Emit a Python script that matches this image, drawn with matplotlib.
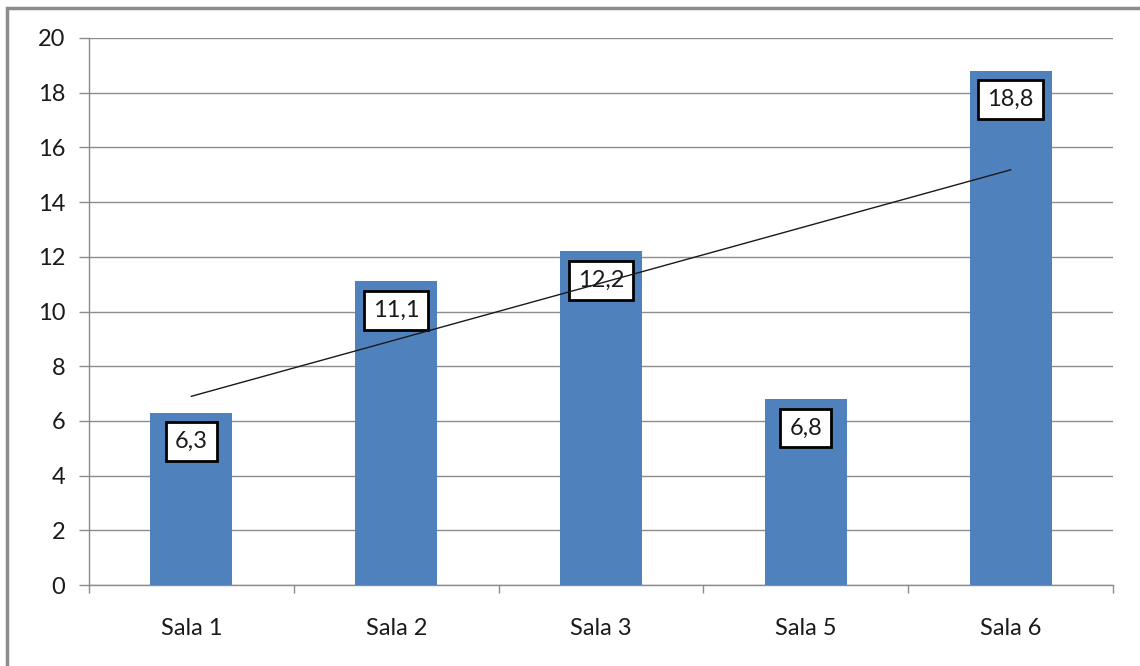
import numpy as np
import matplotlib.pyplot as plt
from matplotlib.patches import Rectangle

# Data
categories = ['Sala 1', 'Sala 2', 'Sala 3', 'Sala 5', 'Sala 6']
values = [6.3, 11.1, 12.2, 6.8, 18.8]
y_ticks = [0, 2, 4, 6, 8, 10, 12, 14, 16, 18, 20]

bar_color = '#4f81bd'
grid_color = '#8c8c8c'

plt.rcParams['font.family'] = ['Lato', 'DejaVu Sans']

fig = plt.figure(figsize=(11.4, 6.66), dpi=100)
ax = fig.add_axes([89 / 1140, (666 - 585) / 666, (1113 - 89) / 1140, (585 - 38) / 666])

x = np.arange(len(categories))
ax.bar(x, values, width=0.4, color=bar_color, zorder=3)

# Linear trend line through the bar values
slope, intercept = np.polyfit(x, values, 1)
ax.plot([x[0], x[-1]], [slope * x[0] + intercept, slope * x[-1] + intercept],
        color='#1a1a1a', linewidth=1.0, zorder=6)

# Value labels in boxes near the top of each bar
for xi, v in zip(x, values):
    ax.annotate(f'{v:.1f}'.replace('.', ','), xy=(xi, v), xytext=(0, -29),
                textcoords='offset pixels', ha='center', va='center', fontsize=17,
                color='#1a1a1a', zorder=5,
                bbox=dict(boxstyle='square,pad=0.38', facecolor='white',
                          edgecolor='black', linewidth=2))

ax.set_xlim(-0.5, len(categories) - 0.5)
ax.set_ylim(0, 20)
ax.set_yticks(y_ticks)
ax.set_xticks(x)
ax.set_xticklabels(categories)
ax.set_xticks(np.arange(-0.5, len(categories)), minor=True)

ax.yaxis.grid(True, color=grid_color, linewidth=1.0, zorder=0)
ax.set_axisbelow(True)

for side in ['top', 'right']:
    ax.spines[side].set_visible(False)
for side in ['left', 'bottom']:
    ax.spines[side].set_color(grid_color)
    ax.spines[side].set_linewidth(1.0)

ax.tick_params(axis='y', length=7, width=1, color=grid_color, pad=10, labelsize=17, labelcolor='#1a1a1a')
ax.tick_params(axis='x', which='major', length=0, pad=24, labelsize=17, labelcolor='#1a1a1a')
ax.tick_params(axis='x', which='minor', length=6, width=1, color=grid_color)

# Outer chart frame
fig.patches.append(Rectangle((7 / 1140, -0.1), 1.2, (666 - 8) / 666 + 0.1,
                             transform=fig.transFigure, fill=False,
                             edgecolor='#8c8c8c', linewidth=2.5))

plt.savefig('out.png', dpi=100)
